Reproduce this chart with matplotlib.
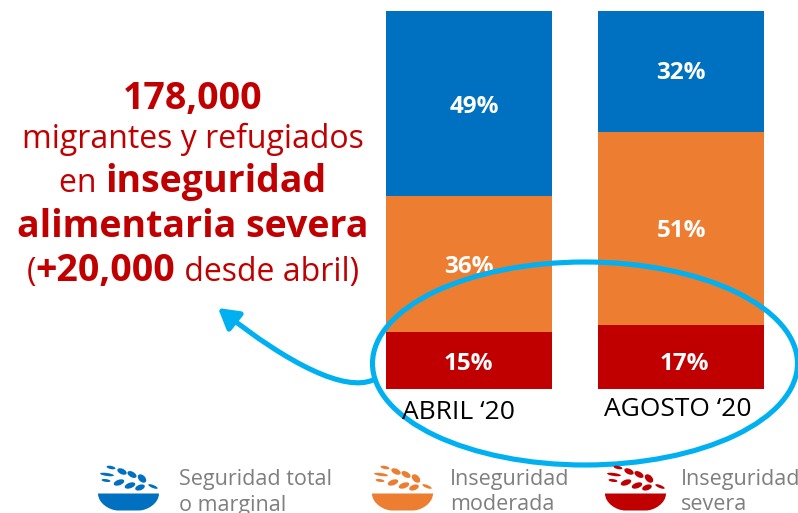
import matplotlib
matplotlib.use('Agg')
import matplotlib.pyplot as plt
from matplotlib.patches import Ellipse, FancyArrowPatch, PathPatch
from matplotlib.path import Path

plt.rcParams['font.family'] = ['Open Sans', 'DejaVu Sans']

months = ['ABRIL \u201820', 'AGOSTO \u201820']
severe = [15, 17]
moderate = [36, 51]
secure = [49, 32]

BLUE = '#0070C0'
ORANGE = '#ED7D31'
RED = '#C00000'
CYAN = '#00B0F0'
GREY = '#7F7F7F'

W, H = 798, 513
fig = plt.figure(figsize=[W / 100, H / 100], dpi=100)

# bars axes sits exactly on the stacked bars
ax = fig.add_axes([386 / W, 1 - 389 / H, 378 / W, 378 / H])
x = [0, 1]
ax.bar(x, severe, width=0.781, color=RED)
ax.bar(x, moderate, width=0.781, bottom=severe, color=ORANGE)
ax.bar(x, secure, width=0.781, bottom=[a + b for a, b in zip(severe, moderate)], color=BLUE)
ax.set_xlim(-0.39, 1.39)
ax.set_ylim(0, 100)
ax.axis('off')

# percent labels, nudged in pixels the way they sit in the slide
nudge = [[(0, -3), (0, -3), (6, -3)], [(3, -7), (0, -3), (0, -2)]]
for i in x:
    base = 0
    for j, vals in enumerate([severe, moderate, secure]):
        dx, dy = nudge[i][j]
        ax.annotate(f'{vals[i]}%', (i, base + vals[i] / 2), xytext=(dx * 0.72, dy * 0.72),
                    textcoords='offset points', ha='center', va='center',
                    color='white', fontsize=17.5, fontweight='bold')
        base += vals[i]

# overlay in pixel coordinates for callout, headline and legend
ov = fig.add_axes([0, 0, 1, 1], facecolor='none')
ov.set_xlim(0, W)
ov.set_ylim(H, 0)
ov.axis('off')

ov.text(458, 419, months[0], ha='center', va='baseline', fontsize=19, color='black')
ov.text(678, 416, months[1], ha='center', va='baseline', fontsize=19, color='black')

ov.add_patch(Ellipse((585, 363.5), 425, 203, fill=False, edgecolor=CYAN, lw=3.7))
curve = Path([(373, 380), (345, 392), (290, 365), (218, 308)],
             [Path.MOVETO, Path.CURVE4, Path.CURVE4, Path.CURVE4])
ov.add_patch(FancyArrowPatch(path=curve, arrowstyle='-|>,head_length=12,head_width=7',
                             color=CYAN, lw=3.7, shrinkA=0, shrinkB=0))


def mixed_line(parts, cx, baseline):
    # centre a line made of regular and bold runs
    r = fig.canvas.get_renderer()
    items = []
    for s, weight in parts:
        size = 27 if weight == 'bold' else 23
        t = ov.text(0, baseline, s, fontsize=size, fontweight=weight, color=RED, va='baseline')
        # trailing spaces are measured with a sentinel
        t.set_text(s + '|')
        w1 = t.get_window_extent(r).width
        t.set_text('|')
        w2 = t.get_window_extent(r).width
        t.set_text(s)
        items.append((t, w1 - w2))
    px = cx - sum(w for _, w in items) / 2
    for t, w in items:
        t.set_x(px)
        px += w


mixed_line([('178,000', 'bold')], 192.5, 109)
mixed_line([('migrantes y refugiados', 'normal')], 192.5, 148)
mixed_line([('en ', 'normal'), ('inseguridad', 'bold')], 192.5, 192)
mixed_line([('alimentaria severa', 'bold')], 192.5, 237)
mixed_line([('(', 'normal'), ('+20,000', 'bold'), (' desde abril)', 'normal')], 192.5, 281)


def bowl_icon(x0, y0, color):
    # y0 is the top edge of the bowl, grains sit above it
    sx = 61.0
    bowl = Path([(x0, y0), (x0 + sx, y0),
                 (x0 + sx, y0 + 10), (x0 + sx - 12, y0 + 17), (x0 + sx - 20, y0 + 17),
                 (x0 + 20, y0 + 17),
                 (x0 + 12, y0 + 17), (x0, y0 + 10), (x0, y0)],
                [Path.MOVETO, Path.LINETO,
                 Path.CURVE4, Path.CURVE4, Path.CURVE4,
                 Path.LINETO,
                 Path.CURVE4, Path.CURVE4, Path.CURVE4])
    ov.add_patch(PathPatch(bowl, facecolor=color, edgecolor='none'))
    grains = [(13, -26, 9, 3.2, 12), (24, -22, 10, 5.5, 25), (34, -19, 10, 5.5, 30), (44, -15, 10, 6.5, 45),
              (9, -19, 14, 3, 8), (21, -11, 11, 5.5, -20), (32, -8, 11, 5.5, -20), (42, -6, 10, 5.5, -20),
              (55, -7, 10, 3, 22), (8, -13, 9, 2.8, 8)]
    for dx, dy, w, h, ang in grains:
        ov.add_patch(Ellipse((x0 + dx, y0 + dy), w, h, angle=ang, facecolor=color, edgecolor='none'))


bowl_icon(98, 493.5, BLUE)
bowl_icon(372, 493.5, ORANGE)
bowl_icon(605, 493.5, RED)

legend_lines = [('Seguridad total', 'o marginal'), ('Inseguridad', 'moderada'), ('Inseguridad', 'severa')]
for (a, b), lx in zip(legend_lines, [179, 450, 681]):
    ov.text(lx, 485.5, a, color=GREY, fontsize=15.5, va='baseline')
    ov.text(lx, 510.5, b, color=GREY, fontsize=15.5, va='baseline')

fig.savefig('out.png', dpi=100)
